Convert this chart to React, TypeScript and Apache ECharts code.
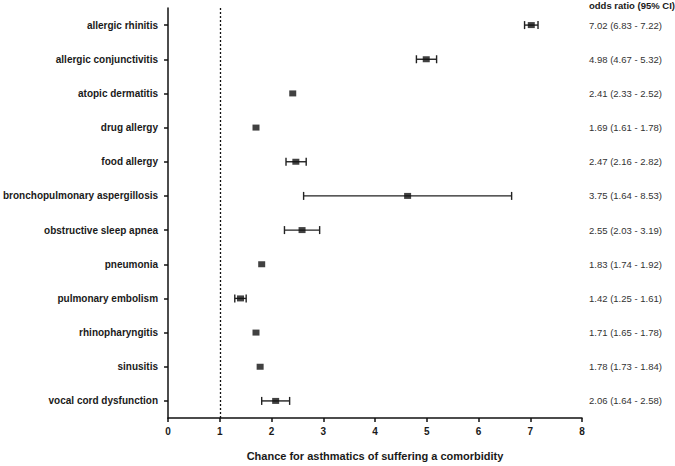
import React, { useEffect, useRef } from "react";
import * as echarts from "echarts";

const categories = [
  "allergic rhinitis",
  "allergic conjunctivitis",
  "atopic dermatitis",
  "drug allergy",
  "food allergy",
  "bronchopulmonary aspergillosis",
  "obstructive sleep apnea",
  "pneumonia",
  "pulmonary embolism",
  "rhinopharyngitis",
  "sinusitis",
  "vocal cord dysfunction",
];
const pointValues = [7.02, 4.99, 2.41, 1.7, 2.47, 4.63, 2.59, 1.81, 1.4, 1.7, 1.78, 2.08];
const lowerValues = [6.89, 4.8, 2.41, 1.7, 2.28, 2.62, 2.25, 1.81, 1.29, 1.7, 1.78, 1.81];
const upperValues = [7.15, 5.19, 2.41, 1.7, 2.67, 6.64, 2.93, 1.81, 1.51, 1.7, 1.78, 2.35];
const oddsLabels = [
  "7.02 (6.83 - 7.22)",
  "4.98 (4.67 - 5.32)",
  "2.41 (2.33 - 2.52)",
  "1.69 (1.61 - 1.78)",
  "2.47 (2.16 - 2.82)",
  "3.75 (1.64 - 8.53)",
  "2.55 (2.03 - 3.19)",
  "1.83 (1.74 - 1.92)",
  "1.42 (1.25 - 1.61)",
  "1.71 (1.65 - 1.78)",
  "1.78 (1.73 - 1.84)",
  "2.06 (1.64 - 2.58)",
];
const xTicks = [0, 1, 2, 3, 4, 5, 6, 7, 8];
const referenceValue = 1;

const FONT = "Liberation Sans, Arial, sans-serif";

export default function App() {
  const ref = useRef<HTMLDivElement>(null);
  useEffect(() => {
    document.body.style.margin = "0";
    if (!ref.current) return;
    const chart = echarts.init(ref.current, null, { renderer: "svg" });
    const errData = categories
      .map((_, i) => [lowerValues[i], upperValues[i], i])
      .filter((d) => d[1] - d[0] > 0.001);
    chart.setOption({
      animation: false,
      backgroundColor: "#ffffff",
      textStyle: { fontFamily: FONT },
      grid: { left: 166, right: 93, top: 8, bottom: 40, containLabel: false },
      xAxis: {
        type: "value",
        min: xTicks[0],
        max: xTicks[xTicks.length - 1],
        interval: 1,
        name: "Chance for asthmatics of suffering a comorbidity",
        nameLocation: "middle",
        nameGap: 32,
        nameTextStyle: { fontFamily: FONT, fontWeight: "bold", fontSize: 11, color: "#1a1a1a" },
        axisLine: { show: true, lineStyle: { color: "#111", width: 1.5 } },
        axisTick: { show: true, length: 4, lineStyle: { color: "#111", width: 1.5 } },
        axisLabel: { fontFamily: FONT, fontWeight: "bold", fontSize: 10, color: "#1a1a1a", margin: 8 },
        splitLine: { show: false },
      },
      yAxis: [
        {
          type: "category",
          data: categories,
          inverse: true,
          boundaryGap: true,
          axisLine: { show: true, lineStyle: { color: "#111", width: 1.5 } },
          axisTick: { show: true, alignWithLabel: true, length: 4, lineStyle: { color: "#111", width: 1.5 } },
          axisLabel: { fontFamily: FONT, fontWeight: "bold", fontSize: 10, color: "#1a1a1a", margin: 10 },
          splitLine: { show: false },
        },
        {
          type: "category",
          data: oddsLabels,
          inverse: true,
          position: "right",
          boundaryGap: true,
          axisLine: { show: false },
          axisTick: { show: false },
          axisLabel: { fontFamily: FONT, fontSize: 9.5, color: "#333", margin: 7, align: "left" },
          splitLine: { show: false },
        },
      ],
      graphic: [
        {
          type: "text",
          left: 589,
          top: 0,
          style: {
            text: "odds ratio (95% CI)",
            fontFamily: FONT,
            fontWeight: "bold",
            fontSize: 9.5,
            fill: "#1a1a1a",
          },
        },
      ],
      series: [
        {
          type: "custom",
          yAxisIndex: 0,
          data: errData,
          encode: { x: [0, 1], y: 2 },
          renderItem: (params: any, api: any) => {
            const lo = api.coord([api.value(0), api.value(2)]);
            const hi = api.coord([api.value(1), api.value(2)]);
            const h = 4;
            const style = { stroke: "#222", lineWidth: 1.4 };
            return {
              type: "group",
              children: [
                { type: "line", shape: { x1: lo[0], y1: lo[1], x2: hi[0], y2: hi[1] }, style },
                { type: "line", shape: { x1: lo[0], y1: lo[1] - h, x2: lo[0], y2: lo[1] + h }, style },
                { type: "line", shape: { x1: hi[0], y1: hi[1] - h, x2: hi[0], y2: hi[1] + h }, style },
              ],
            };
          },
          z: 2,
        },
        {
          type: "scatter",
          yAxisIndex: 0,
          data: categories.map((_, i) => [pointValues[i], i]),
          symbol: "rect",
          symbolSize: [7, 6],
          itemStyle: { color: "#111" },
          z: 3,
          markLine: {
            silent: true,
            symbol: "none",
            label: { show: false },
            lineStyle: { color: "#111", type: [2, 2], width: 1.3 },
            data: [{ xAxis: referenceValue }],
          },
        },
      ],
    });
    return () => chart.dispose();
  }, []);
  return <div ref={ref} style={{ width: 675, height: 466 }} />;
}
